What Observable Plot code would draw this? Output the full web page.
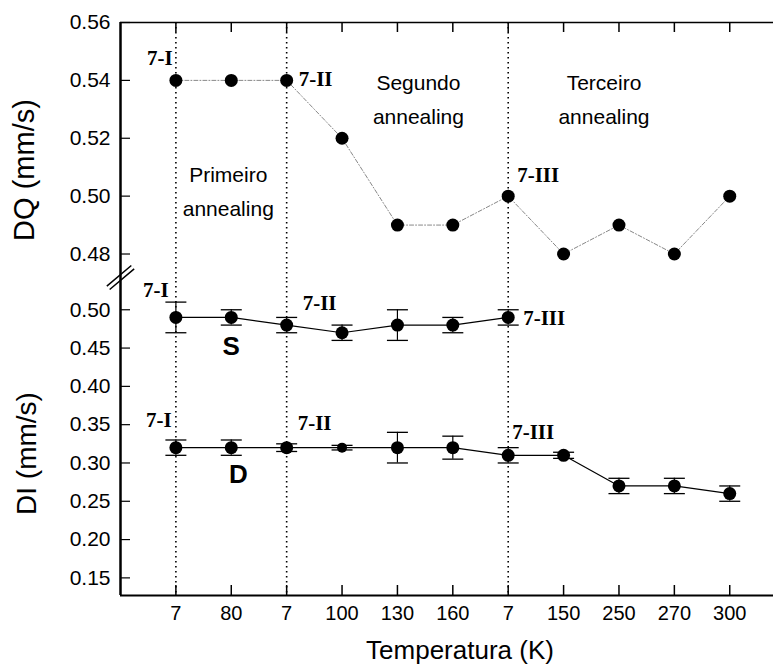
<!DOCTYPE html>
<html><head><meta charset="utf-8">
<script src="https://cdn.jsdelivr.net/npm/d3@7"></script>
<script src="https://cdn.jsdelivr.net/npm/@observablehq/plot@0.6"></script>
<style>
html,body{margin:0;padding:0;background:#fff;}
#chart{position:relative;width:773px;height:669px;overflow:hidden;background:#fff;}
#chart svg{position:absolute;left:0;overflow:visible;}
</style></head><body><div id="chart"></div>
<script>
// ---- data ----
const tempLabels = ["7","80","7","100","130","160","7","150","250","270","300"];
const dqValues   = [0.54,0.54,0.54,0.52,0.49,0.49,0.50,0.48,0.49,0.48,0.50];
const sValues    = [0.49,0.49,0.48,0.47,0.48,0.48,0.49];
const sErrors    = [0.02,0.01,0.01,0.01,0.02,0.01,0.01];
const dValues    = [0.32,0.32,0.32,0.32,0.32,0.32,0.31,0.31,0.27,0.27,0.26];
const dErrors    = [0.01,0.01,0.005,0.003,0.02,0.015,0.01,0.004,0.01,0.01,0.01];
const annealStarts = [0, 2, 6];            // the three "7 K" measurements
const annealNames  = ["Primeiro\nannealing", "Segundo\nannealing", "Terceiro\nannealing"];
const annealMids   = [1, 4, 8];
const dqTicks = [0.48, 0.50, 0.52, 0.54, 0.56];
const diTicks = [0.15, 0.20, 0.25, 0.30, 0.35, 0.40, 0.45, 0.50];
const xDomain  = [-1, 10.79];
const dqDomain = [0.4705, 0.56];
const diDomain = [0.127, 0.5369];

const idx = tempLabels.map((_, i) => i);
const dq = dqValues.map((v, i) => ({i, v}));
const S  = sValues.map((v, i) => ({i, v, e: sErrors[i]}));
const D  = dValues.map((v, i) => ({i, v, e: dErrors[i]}));

const cap = {draw(ctx, size) { const w = Math.sqrt(size / Math.PI); ctx.moveTo(-w, 0); ctx.lineTo(w, 0); }};
const brk = {draw(ctx, size) {
  const r = Math.sqrt(size / Math.PI), ux = 0.766, uy = -0.643, nx = 0.643, ny = 0.766;
  for (const o of [-2.2, 2.2]) { ctx.moveTo(-r*ux + o*nx, -r*uy + o*ny); ctx.lineTo(r*ux + o*nx, r*uy + o*ny); }
}};

const sans = "Liberation Sans, Arial, sans-serif";
const serif = "Liberation Serif, Times New Roman, serif";
const common = {width: 773, marginLeft: 120, marginRight: 0,
  style: {fontFamily: sans, fontSize: "20px", color: "black", background: "transparent"}};

function tag(datum, label, dx, dy, anchor = "start") {
  return Plot.text([datum], {x: "i", y: "v", text: () => label, dx, dy, textAnchor: anchor,
    fontFamily: serif, fontWeight: "bold", fontSize: 21, fill: "black"});
}
function region(k, dx, dy) {
  return Plot.text([annealNames[k]], {x: () => annealMids[k], frameAnchor: "top", lineAnchor: "top",
    textAnchor: "middle", dx, dy, fontSize: 21, lineHeight: 1.6, fill: "black"});
}

// ---- top panel: DQ ----
const topPlot = Plot.plot({
  ...common, height: 281, marginTop: 22, marginBottom: 0,
  x: {type: "linear", domain: xDomain, axis: null},
  y: {domain: dqDomain},
  marks: [
    Plot.ruleX(annealStarts, {x: d => d, stroke: "black", strokeWidth: 1.6, strokeDasharray: "1.6,3.4"}),
    Plot.ruleX([xDomain[0]], {stroke: "black", strokeWidth: 2.5}),
    Plot.ruleY([dqDomain[1]], {stroke: "black", strokeWidth: 1.5}),
    Plot.tickX(idx, {x: d => d, insetBottom: 249, stroke: "black", strokeWidth: 1.5}),
    Plot.tickY(dqTicks, {y: d => d, insetRight: 643, stroke: "black", strokeWidth: 1.2}),
    Plot.axisY(dqTicks, {tickFormat: d3.format(".2f"), tickSize: 0, tickPadding: 10, fontSize: 21, label: null}),
    Plot.line(dq, {x: "i", y: "v", stroke: "#888", strokeWidth: 1, strokeDasharray: "4,2,1,2"}),
    Plot.dot(dq, {x: "i", y: "v", r: 6.5, fill: "black"}),
    Plot.dot([null], {frameAnchor: "bottom-left", symbol: brk, r: 16, stroke: "black", strokeWidth: 1.5, fill: "none", dy: -4}),
    tag(dq[0], "7-I", -16, -22, "middle"),
    tag(dq[2], "7-II", 12, -1),
    tag(dq[6], "7-III", 9, -21),
    region(0, -3, 136),
    region(1, 21, 44),
    region(2, -15, 44),
    Plot.text(["DQ (mm/s)"], {frameAnchor: "left", rotate: -90, lineAnchor: "bottom", textAnchor: "middle", dx: -87, dy: 18, fontSize: 29, fill: "black"})
  ]
});

// ---- bottom panel: DI ----
const bottomPlot = Plot.plot({
  ...common, height: 388, marginTop: 0, marginBottom: 74,
  x: {type: "linear", domain: xDomain},
  y: {domain: diDomain},
  marks: [
    Plot.ruleX(annealStarts, {x: d => d, stroke: "black", strokeWidth: 1.6, strokeDasharray: "1.6,3.4"}),
    Plot.ruleX([xDomain[0]], {stroke: "black", strokeWidth: 2.5}),
    Plot.ruleY([diDomain[0]], {stroke: "black", strokeWidth: 2}),
    Plot.tickX(idx, {x: d => d, insetTop: 304, stroke: "black", strokeWidth: 1.5}),
    Plot.tickY(diTicks, {y: d => d, insetRight: 643, stroke: "black", strokeWidth: 1.2}),
    Plot.axisY(diTicks, {tickFormat: d3.format(".2f"), tickSize: 0, tickPadding: 10, fontSize: 21, label: null}),
    Plot.axisX(idx, {tickFormat: i => tempLabels[i], tickSize: 0, tickPadding: 10, fontSize: 20, label: null}),
    // S series
    Plot.line(S, {x: "i", y: "v", stroke: "black", strokeWidth: 1.2}),
    Plot.ruleX(S, {x: "i", y1: d => d.v - d.e, y2: d => d.v + d.e, stroke: "black", strokeWidth: 1.2}),
    Plot.dot(S, {x: "i", y: d => d.v + d.e, symbol: cap, r: 10.5, stroke: "black", strokeWidth: 1.3, fill: "none"}),
    Plot.dot(S, {x: "i", y: d => d.v - d.e, symbol: cap, r: 10.5, stroke: "black", strokeWidth: 1.3, fill: "none"}),
    Plot.dot(S, {x: "i", y: "v", r: 6.5, fill: "black"}),
    // D series
    Plot.line(D, {x: "i", y: "v", stroke: "black", strokeWidth: 1.2}),
    Plot.ruleX(D, {x: "i", y1: d => d.v - d.e, y2: d => d.v + d.e, stroke: "black", strokeWidth: 1.2}),
    Plot.dot(D, {x: "i", y: d => d.v + d.e, symbol: cap, r: 10.5, stroke: "black", strokeWidth: 1.3, fill: "none"}),
    Plot.dot(D, {x: "i", y: d => d.v - d.e, symbol: cap, r: 10.5, stroke: "black", strokeWidth: 1.3, fill: "none"}),
    Plot.dot(D.filter(d => d.i !== 3), {x: "i", y: "v", r: 6.5, fill: "black"}),
    Plot.dot(D.filter(d => d.i === 3), {x: "i", y: "v", r: 5, fill: "black"}),
    // labels
    tag(S[0], "7-I", -20, -27, "middle"),
    tag(S[2], "7-II", 16, -22),
    tag(S[6], "7-III", 15, 1),
    tag(D[0], "7-I", -17, -27, "middle"),
    tag(D[2], "7-II", 11, -24),
    tag(D[6], "7-III", 4, -23),
    Plot.text([S[1]], {x: "i", y: "v", text: () => "S", dy: 29, fontSize: 26, fontWeight: "bold", fill: "black"}),
    Plot.text([D[1]], {x: "i", y: "v", text: () => "D", dx: 7, dy: 27, fontSize: 26, fontWeight: "bold", fill: "black"}),
    Plot.text(["DI (mm/s)"], {frameAnchor: "left", rotate: -90, lineAnchor: "bottom", textAnchor: "middle", dx: -85, dy: 15, fontSize: 28, fill: "black"}),
    Plot.text(["Temperatura (K)"], {frameAnchor: "bottom", lineAnchor: "bottom", textAnchor: "middle", dx: 13, dy: 63, fontSize: 26, fill: "black"})
  ]
});

const chart = document.getElementById("chart");
topPlot.style.top = "0px";
bottomPlot.style.top = "281px";
chart.appendChild(topPlot);
chart.appendChild(bottomPlot);
</script></body></html>
